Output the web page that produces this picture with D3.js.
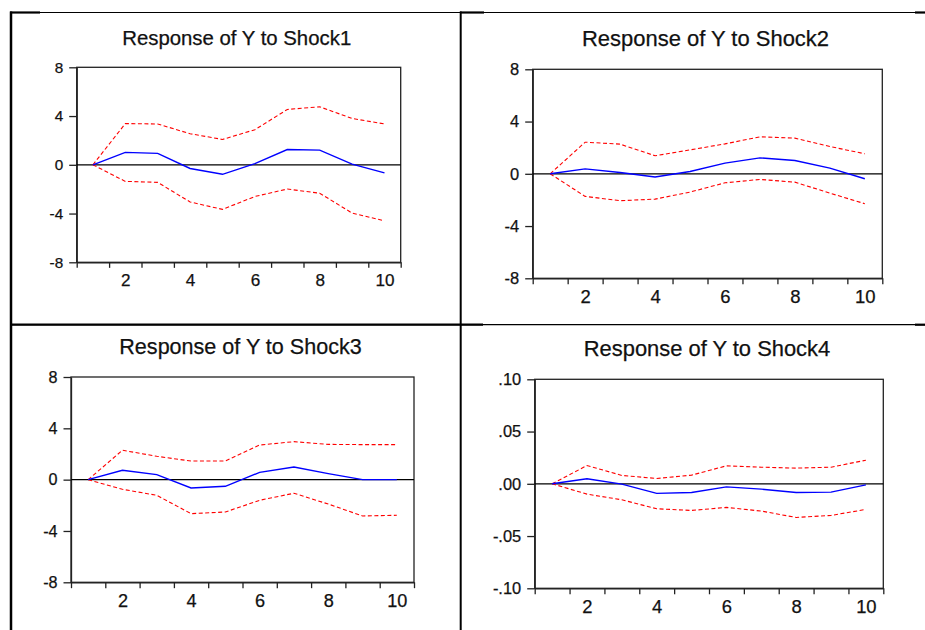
<!DOCTYPE html>
<html>
<head>
<meta charset="utf-8">
<script src="https://cdn.jsdelivr.net/npm/d3@7"></script>
<style>
    html, body {margin: 0; padding: 0; background: #fff;}
    svg {display: block;}
</style>
</head>
<body>
<svg id="chart" width="925" height="630"></svg>
<script>
// impulse responses
const periods = [1, 2, 3, 4, 5, 6, 7, 8, 9, 10];
const xTickLabels = [2, 4, 6, 8, 10];

const shock1Resp = [0, 1.02, 0.94, -0.30, -0.78, 0.10, 1.25, 1.20, 0.05, -0.66];
const shock1Upper = [0, 3.38, 3.35, 2.55, 2.08, 2.88, 4.54, 4.76, 3.80, 3.35];
const shock1Lower = [0, -1.36, -1.44, -3.05, -3.66, -2.60, -1.99, -2.33, -3.96, -4.60];

const shock2Resp = [0, 0.38, 0.10, -0.25, 0.18, 0.82, 1.22, 1.02, 0.43, -0.38];
const shock2Upper = [0, 2.42, 2.27, 1.38, 1.83, 2.29, 2.83, 2.73, 2.09, 1.53];
const shock2Lower = [0, -1.73, -2.06, -1.94, -1.40, -0.69, -0.43, -0.64, -1.48, -2.29];

const shock3Resp = [0, 0.73, 0.39, -0.65, -0.52, 0.57, 0.99, 0.47, 0, 0];
const shock3Upper = [0, 2.29, 1.82, 1.45, 1.45, 2.70, 2.96, 2.75, 2.73, 2.73];
const shock3Lower = [0, -0.75, -1.22, -2.65, -2.52, -1.61, -1.06, -1.90, -2.83, -2.78];

const shock4Resp = [0, 0.0048, -0.0003, -0.0092, -0.0083, -0.0029, -0.0051, -0.0083, -0.0080, -0.0010];
const shock4Upper = [0, 0.0175, 0.0080, 0.0051, 0.0083, 0.0172, 0.0159, 0.0150, 0.0159, 0.0226];
const shock4Lower = [0, -0.0099, -0.0153, -0.0239, -0.0255, -0.0226, -0.0261, -0.0322, -0.0303, -0.0245];

const titles = ["Response of Y to Shock1", "Response of Y to Shock2", "Response of Y to Shock3", "Response of Y to Shock4"];
const yDomains = [[-8, 8], [-8, 8], [-8, 8], [-0.1, 0.1]];
const yTicks = [[-8, -4, 0, 4, 8], [-8, -4, 0, 4, 8], [-8, -4, 0, 4, 8], [-0.1, -0.05, 0, 0.05, 0.1]];

const series = [
    {resp: shock1Resp, upper: shock1Upper, lower: shock1Lower},
    {resp: shock2Resp, upper: shock2Upper, lower: shock2Lower},
    {resp: shock3Resp, upper: shock3Upper, lower: shock3Lower},
    {resp: shock4Resp, upper: shock4Upper, lower: shock4Lower}
];

// plot frames inside the table cells (the first one was pasted a bit smaller)
const frames = [
    {x0: 76.7, x1: 400.7, y0: 67.3, y1: 262.3, titleY: 45},
    {x0: 532.7, x1: 882.3, y0: 69.3, y1: 278.3, titleY: 46},
    {x0: 71, x1: 414, y0: 377, y1: 582.3, titleY: 354},
    {x0: 534.7, x1: 883.3, y0: 379.3, y1: 588.3, titleY: 356}
];

const FONT = "'Liberation Sans', Arial, sans-serif";
const TEXT = "#111";
const svg = d3.select("#chart");

// table borders of the document the charts were pasted into
const borders = svg.append("g").attr("class", "table-borders").attr("stroke", "#000");
borders.append("line").attr("x1", 10).attr("x2", 925).attr("y1", 12.5).attr("y2", 12.5).attr("stroke-width", 1.2);
borders.append("line").attr("x1", 10).attr("x2", 925).attr("y1", 324.7).attr("y2", 324.7).attr("stroke-width", 1.2);
[[10, 40, 12.5], [460, 484, 12.5], [915, 925, 12.5], [10, 483, 324.7], [915, 925, 324.7]].forEach(s => {
    borders.append("line").attr("x1", s[0]).attr("x2", s[1]).attr("y1", s[2]).attr("y2", s[2]).attr("stroke-width", 2.2);
});
borders.append("line").attr("x1", 11).attr("x2", 11).attr("y1", 11.5).attr("y2", 630).attr("stroke-width", 2.5);
borders.append("line").attr("x1", 460.7).attr("x2", 460.7).attr("y1", 11.5).attr("y2", 630).attr("stroke-width", 2);

// EViews style labels: plain hyphen, no leading zero
const hyphen = s => s.replace("\u2212", "-");
const smallFormat = v => hyphen(d3.format(".2f")(v)).replace("0.", ".");
const intFormat = v => hyphen(d3.format("d")(v));

function styleText(sel, size) {
    sel.attr("font-family", FONT)
        .attr("font-size", size)
        .attr("fill", TEXT)
        .attr("stroke", TEXT)
        .attr("stroke-width", 0.25);
}

function drawPanel(i) {
    const f = frames[i];
    const k = (f.x1 - f.x0) / 350;
    const g = svg.append("g").attr("class", "panel-" + (i + 1));

    const x = d3.scaleLinear().domain([0.5, 10.5]).range([f.x0, f.x1]);
    const y = d3.scaleLinear().domain(yDomains[i]).range([f.y1, f.y0]);
    const fmt = i === 3 ? smallFormat : intFormat;

    g.append("text")
        .attr("x", (f.x0 + f.x1) / 2 - 2)
        .attr("y", f.titleY)
        .attr("text-anchor", "middle")
        .text(titles[i])
        .call(styleText, 22 * k);

    // frame
    g.append("rect")
        .attr("x", f.x0).attr("y", f.y0)
        .attr("width", f.x1 - f.x0).attr("height", f.y1 - f.y0)
        .attr("fill", "none").attr("stroke", "#222").attr("stroke-width", 1.3);

    const yAxis = g.append("g")
        .attr("transform", `translate(${f.x0},0)`)
        .call(d3.axisLeft(y).tickValues(yTicks[i]).tickFormat(fmt).tickSize(7.5).tickPadding(6).tickSizeOuter(0));
    yAxis.selectAll("text").call(styleText, 16.5 * k);

    // ticks on period boundaries, labels on even periods
    const xAxis = g.append("g")
        .attr("transform", `translate(0,${f.y1})`)
        .call(d3.axisBottom(x).tickValues(d3.range(0.5, 11, 1)).tickFormat("").tickSize(6 * k).tickSizeOuter(0));
    g.append("g")
        .attr("transform", `translate(0,${f.y1})`)
        .call(d3.axisBottom(x).tickValues(xTickLabels).tickFormat(intFormat).tickSize(0).tickPadding(12 * k))
        .call(a => a.select(".domain").remove())
        .selectAll("text").call(styleText, 18.5 * k);

    [yAxis, xAxis].forEach(a => {
        a.select(".domain").attr("stroke", "#222").attr("stroke-width", 1.3);
        a.selectAll(".tick line").attr("stroke", "#222").attr("stroke-width", 1.3);
    });

    // zero line
    g.append("line")
        .attr("x1", f.x0).attr("x2", f.x1)
        .attr("y1", y(0)).attr("y2", y(0))
        .attr("stroke", "#000").attr("stroke-width", 1.2);

    const s = series[i];
    const path = d3.line().x((d, j) => x(periods[j])).y(d => y(d));

    [s.upper, s.lower].forEach(band => {
        g.append("path")
            .attr("d", path(band))
            .attr("fill", "none")
            .attr("stroke", "#ff0000")
            .attr("stroke-width", 1.1)
            .attr("stroke-dasharray", "4,2.5");
    });
    g.append("path")
        .attr("d", path(s.resp))
        .attr("fill", "none")
        .attr("stroke", "#0000ff")
        .attr("stroke-width", 1.4);
}

titles.forEach((t, i) => drawPanel(i));
</script>
</body>
</html>
